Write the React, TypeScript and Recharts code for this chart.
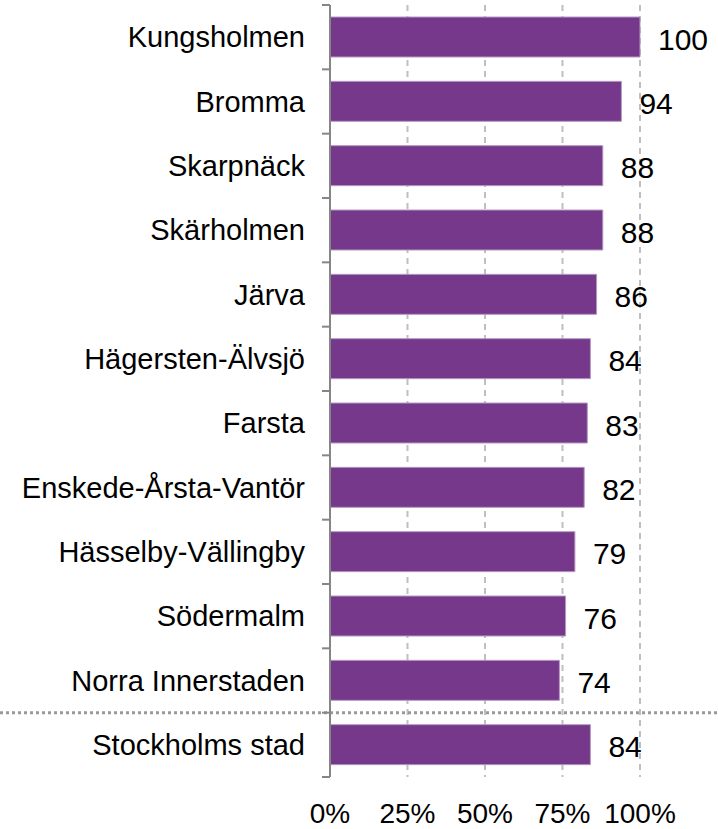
import React from "react";
import { BarChart, Bar, XAxis, YAxis, CartesianGrid, LabelList, ReferenceLine } from "recharts";

const districts = [
  "Kungsholmen",
  "Bromma",
  "Skarpnäck",
  "Skärholmen",
  "Järva",
  "Hägersten-Älvsjö",
  "Farsta",
  "Enskede-Årsta-Vantör",
  "Hässelby-Vällingby",
  "Södermalm",
  "Norra Innerstaden",
  "Stockholms stad",
];
const shares = [100, 94, 88, 88, 86, 84, 83, 82, 79, 76, 74, 84];
const xTicks = [0, 25, 50, 75, 100];

const data = districts.map((name, i) => ({ name, value: shares[i] }));

const W = 718;
const H = 829;
const MARGIN = { top: 5, right: 78, bottom: 0, left: 0 };
const X_AXIS_H = 52;
const Y_AXIS_W = 330;
const BAND = (H - MARGIN.top - MARGIN.bottom - X_AXIS_H) / districts.length;
const FONT = "'Liberation Sans', Arial, sans-serif";

const CategoryTick = (props: any) => {
  const { x, y, payload, index } = props;
  const axisX = x + 25;
  const last = index === districts.length - 1;
  return (
    <g>
      <line x1={axisX - 8} x2={axisX} y1={y - BAND / 2} y2={y - BAND / 2} stroke="#868686" strokeWidth={2} />
      {last && (
        <line x1={axisX - 8} x2={axisX} y1={y + BAND / 2} y2={y + BAND / 2} stroke="#868686" strokeWidth={2} />
      )}
      <text x={x} y={y} dy="0.355em" textAnchor="end" fontSize={29} fontFamily={FONT} fill="#000">
        {payload.value}
      </text>
    </g>
  );
};

const Separator = (props: any) => {
  const { y1 } = props;
  return <line x1={0} x2={W} y1={y1} y2={y1} stroke="#999999" strokeWidth={3} strokeDasharray="3 3" />;
};

export default function App() {
  return (
    <div style={{ position: "absolute", left: 0, top: 0, width: W, height: H, background: "#fff" }}>
      <BarChart width={W} height={H} data={data} layout="vertical" margin={MARGIN}>
        <CartesianGrid horizontal={false} stroke="#BFBFBF" strokeWidth={2} strokeDasharray="6 5" />
        <XAxis
          type="number"
          domain={[0, 100]}
          ticks={xTicks}
          tickFormatter={(v: number) => `${v}%`}
          axisLine={false}
          tickLine={false}
          tickSize={0}
          tickMargin={26}
          height={X_AXIS_H}
          tick={{ fontSize: 28, fontFamily: FONT, fill: "#000" }}
          interval={0}
        />
        <YAxis
          type="category"
          dataKey="name"
          width={Y_AXIS_W}
          axisLine={{ stroke: "#868686", strokeWidth: 2 }}
          tickLine={false}
          tickSize={0}
          tickMargin={25}
          tick={<CategoryTick />}
          interval={0}
        />
        <ReferenceLine y="Stockholms stad" position="start" ifOverflow="visible" shape={<Separator />} />
        <Bar dataKey="value" fill="#76388A" stroke="#B49AC0" strokeWidth={1} barSize={40} isAnimationActive={false}>
          <LabelList dataKey="value" position="right" offset={18} dy={2} fontSize={30} fontFamily={FONT} fill="#000" />
        </Bar>
      </BarChart>
    </div>
  );
}
